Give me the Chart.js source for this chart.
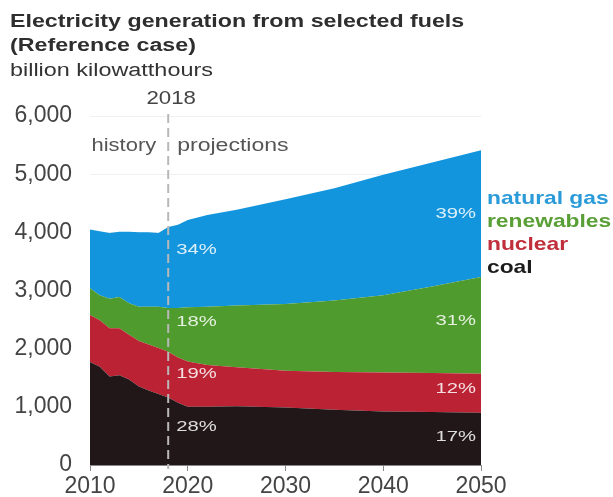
<!DOCTYPE html>
<html>
<head>
<meta charset="utf-8">
<script src="https://cdn.jsdelivr.net/npm/chart.js@4.4.0/dist/chart.umd.min.js"></script>
<style>
  html, body { margin: 0; padding: 0; background: #fff; }
  #wrap { width: 613px; height: 497px; }
</style>
</head>
<body>
<div id="wrap"><canvas id="grafico" width="613" height="497"></canvas></div>
<script>
// dados (bilhões de kWh)
const anos = [2010, 2011, 2012, 2013, 2014, 2015, 2016, 2017, 2018,
              2019, 2020, 2022, 2025, 2030, 2035, 2040, 2045, 2050];
const carvao =     [1770, 1690, 1520, 1545, 1470, 1350, 1280, 1220, 1160,
                    1070, 1000, 1000, 1010, 990, 950, 920, 910, 900];
const nuclear =    [810, 800, 830, 805, 770, 780, 790, 790, 785,
                    780, 780, 720, 670, 630, 650, 670, 670, 670];
const renovaveis = [460, 430, 510, 540, 540, 590, 650, 710, 755,
                    850, 930, 1000, 1060, 1150, 1230, 1330, 1490, 1660];
const gas =        [1010, 1100, 1130, 1120, 1230, 1280, 1280, 1270, 1390,
                    1430, 1500, 1580, 1650, 1800, 1930, 2070, 2130, 2180];

const nomes = ["coal", "nuclear", "renewables", "natural gas"];
const pct2018 = ["28%", "19%", "18%", "34%"];
const pct2050 = ["17%", "12%", "31%", "39%"];
const ticksY = [0, 1000, 2000, 3000, 4000, 5000, 6000];
const ticksX = [2010, 2020, 2030, 2040, 2050];
const anoDivisao = 2018;

const cores = ["#221718", "#bb2233", "#4f9b2e", "#1295dc"];
const coresLegenda = ["#1c1c1c", "#c0303c", "#5a9f36", "#2a9bd8"];
// altura relativa do rótulo dentro de cada faixa
const posRotulo2018 = [0.56, 0.52, 0.68, 0.72];
const posRotulo2050 = [0.53, 0.6, 0.55, 0.5];

const series = [carvao, nuclear, renovaveis, gas];
const datasets = series.map((s, i) => ({
  label: nomes[i],
  data: anos.map((a, j) => ({ x: a, y: s[j] })),
  backgroundColor: cores[i],
  borderColor: cores[i],
  borderWidth: 0,
  pointRadius: 0,
  fill: i === 0 ? "origin" : "-1",
  tension: 0,
}));

function texto(ctx, str, x, y, font, cor, align, sx) {
  ctx.save();
  ctx.font = font;
  ctx.fillStyle = cor;
  ctx.textAlign = align || "left";
  ctx.textBaseline = "middle";
  ctx.translate(x, y);
  ctx.scale(sx || 1, 1);
  ctx.fillText(str, 0, 0);
  ctx.restore();
}

// textos, linha tracejada e rótulos
const anotacoes = {
  id: "anotacoes",
  afterDatasetsDraw(chart) {
    const ctx = chart.ctx;
    const x = chart.scales.x;
    const y = chart.scales.y;
    const area = chart.chartArea;

    // linha 2018
    const xd = x.getPixelForValue(anoDivisao);
    ctx.save();
    ctx.strokeStyle = "#b8b8b8";
    ctx.lineWidth = 2;
    ctx.setLineDash([9, 5]);
    ctx.beginPath();
    ctx.moveTo(xd, 114);
    ctx.lineTo(xd, area.bottom + 4);
    ctx.stroke();
    ctx.restore();

    const f = "'Liberation Sans', Arial, sans-serif";
    texto(ctx, "2018", xd + 3, 99, "19px " + f, "#444", "center", 1.17);
    texto(ctx, "history", xd - 12, 146, "18px " + f, "#555", "right", 1.22);
    texto(ctx, "projections", xd + 9, 146, "18px " + f, "#555", "left", 1.28);

    // percentuais
    const i18 = anos.indexOf(2018);
    const iFim = anos.length - 1;
    let base18 = 0, baseFim = 0;
    series.forEach((s, i) => {
      const m18 = base18 + s[i18] * posRotulo2018[i];
      const mFim = baseFim + s[iFim] * posRotulo2050[i];
      base18 += s[i18];
      baseFim += s[iFim];
      texto(ctx, pct2018[i], xd + 8, y.getPixelForValue(m18),
        "15px " + f, "rgba(255,255,255,0.85)", "left", 1.35);
      texto(ctx, pct2050[i], area.right - 5, y.getPixelForValue(mFim),
        "15px " + f, "rgba(255,255,255,0.85)", "right", 1.35);
    });

    // legenda à direita
    for (let i = 3; i >= 0; i--) {
      texto(ctx, nomes[i], area.right + 6, 199 + (3 - i) * 23,
        "bold 19px " + f, coresLegenda[i], "left", 1.2);
    }

    // títulos
    texto(ctx, "Electricity generation from selected fuels", 10, 22,
      "bold 18px " + f, "#2e2e2e", "left", 1.29);
    texto(ctx, "(Reference case)", 10, 46, "bold 18px " + f, "#2e2e2e", "left", 1.29);
    texto(ctx, "billion kilowatthours", 10, 71, "18px " + f, "#333", "left", 1.3);
  },
};

new Chart(document.getElementById("grafico"), {
  type: "line",
  data: { datasets },
  plugins: [anotacoes],
  options: {
    responsive: false,
    animation: false,
    layout: { padding: { top: 116, right: 132, left: 0, bottom: 0 } },
    plugins: { legend: { display: false }, tooltip: { enabled: false } },
    scales: {
      x: {
        type: "linear",
        min: 2010,
        max: 2050,
        afterFit: (s) => { s.height = 32; },
        afterBuildTicks: (s) => { s.ticks = ticksX.map((v) => ({ value: v })); },
        ticks: {
          font: { size: 23, family: "'Liberation Sans', Arial, sans-serif" },
          color: "#444",
          padding: 2,
          maxRotation: 0,
          callback: (v) => String(v),
        },
        grid: { drawOnChartArea: false, drawTicks: true, tickLength: 6, color: "#888" },
        border: { color: "#888" },
      },
      y: {
        stacked: true,
        min: 0,
        max: 6000,
        afterFit: (s) => { s.width = 90; },
        afterBuildTicks: (s) => { s.ticks = ticksY.map((v) => ({ value: v })); },
        ticks: {
          font: { size: 23, family: "'Liberation Sans', Arial, sans-serif" },
          color: "#444",
          padding: 18,
          callback: (v) => v.toLocaleString("en-US"),
        },
        grid: { color: "#f0f0f0", drawTicks: false },
        border: { display: false },
      },
    },
  },
});
</script>
</body>
</html>
